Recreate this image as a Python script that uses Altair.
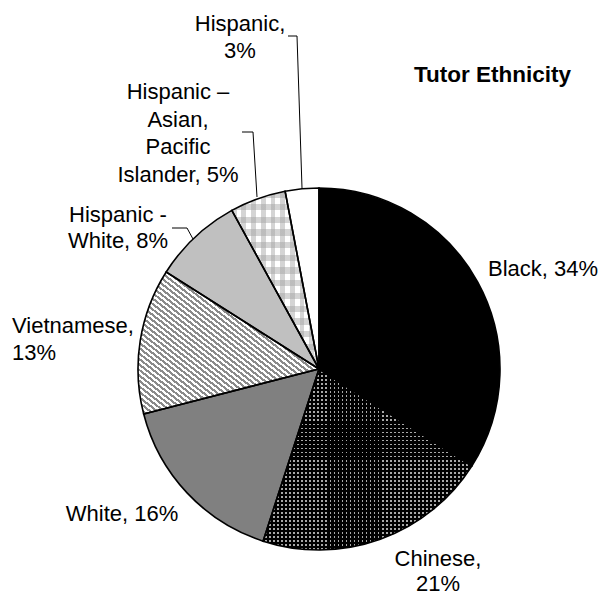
import altair as alt
import pandas as pd

# ---- data ----
categories = ["Black", "Chinese", "White", "Vietnamese", "Hispanic - White",
              "Hispanic - Asian, Pacific Islander", "Hispanic"]
values = [34, 21, 16, 13, 8, 5, 3]
order = [1, 2, 3, 4, 5, 6, 7]
label_texts = [
    ["Black, 34%"],
    ["Chinese,", "21%"],
    ["White, 16%"],
    ["Vietnamese,", "13%"],
    ["Hispanic -", "White, 8%"],
    ["Hispanic \u2013", "Asian,", "Pacific", "Islander, 5%"],
    ["Hispanic,", "3%"],
]
title_text = "Tutor Ethnicity"

df = pd.DataFrame({"category": categories, "value": values, "order": order})

# ---- styles ----
FONT = "Liberation Sans"
base_colors = ["#000000", "#a8a8a8", "#808080", "#ffffff", "#c0c0c0", "#ffffff", "#ffffff"]
CX, CY, R = 319, 369, 181


def stripes(n, color, duty, x1, y1, x2, y2):
    clear = "rgba(255,255,255,0)"
    stops = []
    for i in range(n):
        a = round(i / n, 5)
        b = round((i + duty) / n, 5)
        c = round((i + 1) / n, 5)
        stops += [
            {"offset": a, "color": color},
            {"offset": b, "color": color},
            {"offset": b, "color": clear},
            {"offset": c, "color": clear},
        ]
    return {"gradient": "linear", "stops": stops, "x1": x1, "y1": y1, "x2": x2, "y2": y2}


base = alt.Chart(df).transform_window(
    cum="sum(value)", sort=[alt.SortField("order")]
).transform_calculate(start="datum.cum - datum.value")

theta = alt.Theta("start:Q", scale=alt.Scale(domain=[0, 100]), stack=None)
theta2 = alt.Theta2("cum:Q")
pos = dict(x=alt.value(CX), y=alt.value(CY))

pie = base.mark_arc(outerRadius=R, strokeWidth=0).encode(
    theta=theta, theta2=theta2,
    fill=alt.Fill("category:N", scale=alt.Scale(domain=categories, range=base_colors), legend=None),
    **pos,
)


def pattern(cat, grad):
    return base.transform_filter(alt.datum.category == cat).mark_arc(
        outerRadius=R, fill=grad, strokeWidth=0
    ).encode(theta=theta, theta2=theta2, **pos)


layers = [
    pie,
    pattern("Chinese", stripes(45, "#000000", 0.55, 0, 0, 0, 1)),
    pattern("Chinese", stripes(52, "#000000", 0.55, 0, 0, 1, 0)),
    pattern("Vietnamese", stripes(52, "#8a8a8a", 0.5, 0, 1, 1, 0)),
    pattern("Hispanic - Asian, Pacific Islander", stripes(14, "rgba(160,160,160,0.45)", 0.5, 0, 0, 0, 1)),
    pattern("Hispanic - Asian, Pacific Islander", stripes(9, "rgba(160,160,160,0.45)", 0.5, 0, 0, 1, 0)),
]

outline = base.mark_arc(outerRadius=R, fillOpacity=0, stroke="#000000", strokeWidth=1.6,
                        strokeJoin="miter").encode(theta=theta, theta2=theta2, **pos)
layers.append(outline)


# leader lines
def seg(x1, y1, x2, y2):
    return alt.Chart(df).mark_rule(color="#000000", strokeWidth=1).encode(
        x=alt.value(x1), y=alt.value(y1), x2=alt.value(x2), y2=alt.value(y2)
    ).transform_filter(alt.datum.order == 1)


for s in [
    (288, 36, 297, 36), (297, 36, 302, 188),
    (242, 132, 253, 132), (253, 132, 257, 197),
    (172, 228, 187, 228), (187, 228, 193, 239),
]:
    layers.append(seg(*s))

# labels: (index, x, y, align, lineHeight)
label_pos = [
    (0, 488, 276, "left", 27),
    (1, 438, 566, "center", 25),
    (2, 122, 521, "center", 27),
    (3, 12, 333, "left", 27),
    (4, 118, 222, "center", 26),
    (5, 178, 99, "center", 27.5),
    (6, 240, 31, "center", 27),
]
for idx, x, y, align, lh in label_pos:
    layers.append(
        alt.Chart(df).transform_filter(alt.datum.order == 1).mark_text(
            text=label_texts[idx], font=FONT, fontSize=22, lineHeight=lh, align=align,
            baseline="alphabetic", color="#000000",
        ).encode(x=alt.value(x), y=alt.value(y))
    )

layers.append(
    alt.Chart(df).transform_filter(alt.datum.order == 1).mark_text(
        text=title_text, font=FONT, fontSize=22.5, fontWeight="bold", align="right",
        baseline="alphabetic", color="#000000",
    ).encode(x=alt.value(571), y=alt.value(82))
)

chart = alt.layer(*layers).properties(
    width=602, height=598, padding=0, autosize=alt.AutoSizeParams(type="none"),
    background="#ffffff",
).configure_view(stroke=None)

chart.save("out.html", embed_options={"renderer": "svg", "actions": False})
